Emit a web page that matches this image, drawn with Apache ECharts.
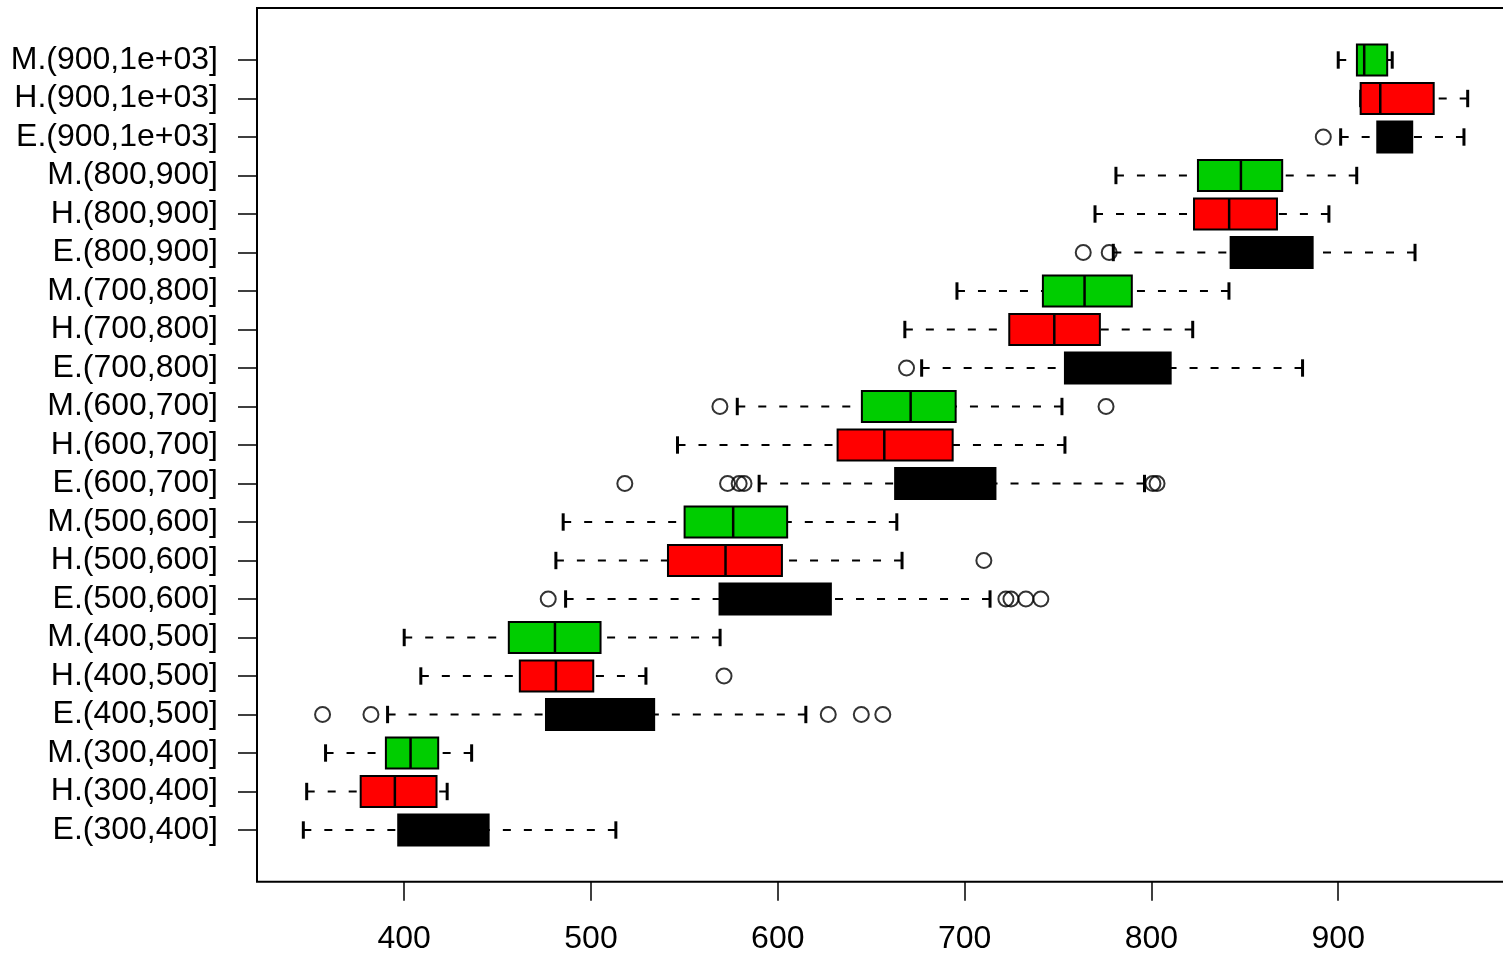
<!DOCTYPE html>
<html>
<head>
<meta charset="utf-8">
<script src="https://cdn.jsdelivr.net/npm/echarts@6/dist/echarts.min.js"></script>
<style>
  html, body { margin: 0; padding: 0; background: #fff; }
  #boxchart { width: 1503px; height: 956px; }
</style>
</head>
<body>
<div id="boxchart"></div>
<script>
// groups, bottom to top
var categories = [
  'E.(300,400]', 'H.(300,400]', 'M.(300,400]',
  'E.(400,500]', 'H.(400,500]', 'M.(400,500]',
  'E.(500,600]', 'H.(500,600]', 'M.(500,600]',
  'E.(600,700]', 'H.(600,700]', 'M.(600,700]',
  'E.(700,800]', 'H.(700,800]', 'M.(700,800]',
  'E.(800,900]', 'H.(800,900]', 'M.(800,900]',
  'E.(900,1e+03]', 'H.(900,1e+03]', 'M.(900,1e+03]'
];
var lowWhisker  = [346.0, 347.8, 357.9, 391.1, 408.9, 400.0, 486.4, 481.2, 485.1, 590.0, 546.3, 578.3, 677.0, 668.0, 695.9, 779.6, 769.8, 781.0, 901.3, 912.0, 900.0];
var lowerQuart  = [396.8, 376.7, 390.2, 475.9, 461.9, 456.0, 568.8, 541.2, 550.1, 662.8, 632.0, 645.0, 753.7, 723.9, 741.9, 842.4, 822.8, 824.9, 920.9, 912.0, 910.0];
var medians     = [420.5, 395.0, 403.4, 505.1, 481.2, 480.7, 601.1, 572.0, 576.1, 692.0, 657.0, 671.1, 781.4, 748.0, 764.2, 864.3, 841.6, 847.9, 931.3, 922.5, 913.9];
var upperQuart  = [445.2, 417.3, 418.2, 533.8, 501.2, 505.1, 628.4, 602.2, 605.0, 716.5, 693.6, 695.2, 810.3, 772.4, 789.5, 886.3, 867.2, 870.0, 939.6, 951.1, 926.2];
var highWhisker = [513.3, 423.0, 436.1, 615.0, 529.4, 569.1, 713.6, 666.5, 663.7, 796.3, 753.7, 752.1, 880.9, 822.1, 841.5, 941.1, 895.0, 909.9, 967.3, 969.3, 928.9];

// outliers: group index and value
var outlierGroup = [3, 3, 3, 3, 3, 4, 6, 6, 6, 6, 6, 7, 9, 9, 9, 9, 9, 9, 11, 11, 12, 15, 15, 18];
var outlierValue = [356.3, 382.2, 627.0, 644.7, 656.2, 571.2, 477.1, 722.1, 724.8, 732.8, 740.8, 710.3,
                    518.1, 573.1, 579.3, 581.9, 800.8, 803.0, 569.0, 775.7, 668.9, 763.5, 777.4, 892.0];

var xTicks = [400, 500, 600, 700, 800, 900];

var groupColors = { E: '#000000', H: '#FF0000', M: '#00CD00' };

var boxData = categories.map(function (c, i) {
  return [i, lowWhisker[i], lowerQuart[i], medians[i], upperQuart[i], highWhisker[i]];
});
var outlierData = outlierGroup.map(function (g, i) {
  return [outlierValue[i], g];
});

var fontName = 'Liberation Sans, Arial, Helvetica, sans-serif';

var myChart = echarts.init(document.getElementById('boxchart'));

function renderBox(params, api) {
  var idx = api.value(0);
  var lo = api.coord([api.value(1), idx]);
  var b1 = api.coord([api.value(2), idx]);
  var md = api.coord([api.value(3), idx]);
  var b3 = api.coord([api.value(4), idx]);
  var hi = api.coord([api.value(5), idx]);
  var band = api.size([0, 1])[1];
  var h = band * 0.8;
  var sh = h / 2 + 2;   // staple height
  var cy = lo[1];
  var fill = groupColors[categories[idx].charAt(0)];
  var dash = { stroke: '#000', lineWidth: 2, lineDash: [8, 13] };
  var staple = { stroke: '#000', lineWidth: 3 };
  return {
    type: 'group',
    children: [
      { type: 'line', shape: { x1: lo[0], y1: cy, x2: b1[0], y2: cy }, style: dash },
      { type: 'line', shape: { x1: hi[0], y1: cy, x2: b3[0], y2: cy }, style: dash },
      { type: 'line', shape: { x1: lo[0], y1: cy - sh / 2, x2: lo[0], y2: cy + sh / 2 }, style: staple },
      { type: 'line', shape: { x1: hi[0], y1: cy - sh / 2, x2: hi[0], y2: cy + sh / 2 }, style: staple },
      { type: 'rect', shape: { x: b1[0], y: cy - h / 2, width: b3[0] - b1[0], height: h },
        style: { fill: fill, stroke: '#000', lineWidth: 2 } },
      { type: 'line', shape: { x1: md[0], y1: cy - h / 2, x2: md[0], y2: cy + h / 2 },
        style: { stroke: '#000', lineWidth: 2.5 } }
    ]
  };
}

var option = {
  animation: false,
  backgroundColor: '#fff',
  grid: { left: 257, right: 0, top: 40.75, bottom: 106.75 },
  xAxis: {
    type: 'value',
    min: 321.2,
    max: 988.2,
    offset: 32.5,
    axisLine: { show: false },
    splitLine: { show: false },
    axisTick: { show: true, length: 19, customValues: xTicks, lineStyle: { color: '#000', width: 1.5 } },
    axisLabel: { customValues: xTicks, color: '#000', fontSize: 32, fontFamily: fontName, margin: 41 }
  },
  yAxis: {
    type: 'category',
    data: categories,
    axisLine: { show: false },
    axisTick: { show: true, alignWithLabel: true, interval: 0, length: 19, lineStyle: { color: '#000', width: 1.5 } },
    axisLabel: { interval: 0, hideOverlap: false, color: '#000', fontSize: 32, lineHeight: 32,
                 fontFamily: fontName, margin: 39 }
  },
  graphic: [
    { type: 'rect', shape: { x: 257, y: 8, width: 1260, height: 873.7 },
      style: { fill: 'none', stroke: '#000', lineWidth: 2 }, z: 100 }
  ],
  series: [
    {
      name: 'boxes',
      type: 'custom',
      renderItem: renderBox,
      encode: { x: [1, 2, 3, 4, 5], y: 0 },
      data: boxData
    },
    {
      name: 'outliers',
      type: 'scatter',
      symbol: 'circle',
      symbolSize: 15,
      itemStyle: { color: 'rgba(0,0,0,0)', borderColor: '#000', borderWidth: 2 },
      data: outlierData
    }
  ]
};
myChart.setOption(option);
</script>
</body>
</html>
